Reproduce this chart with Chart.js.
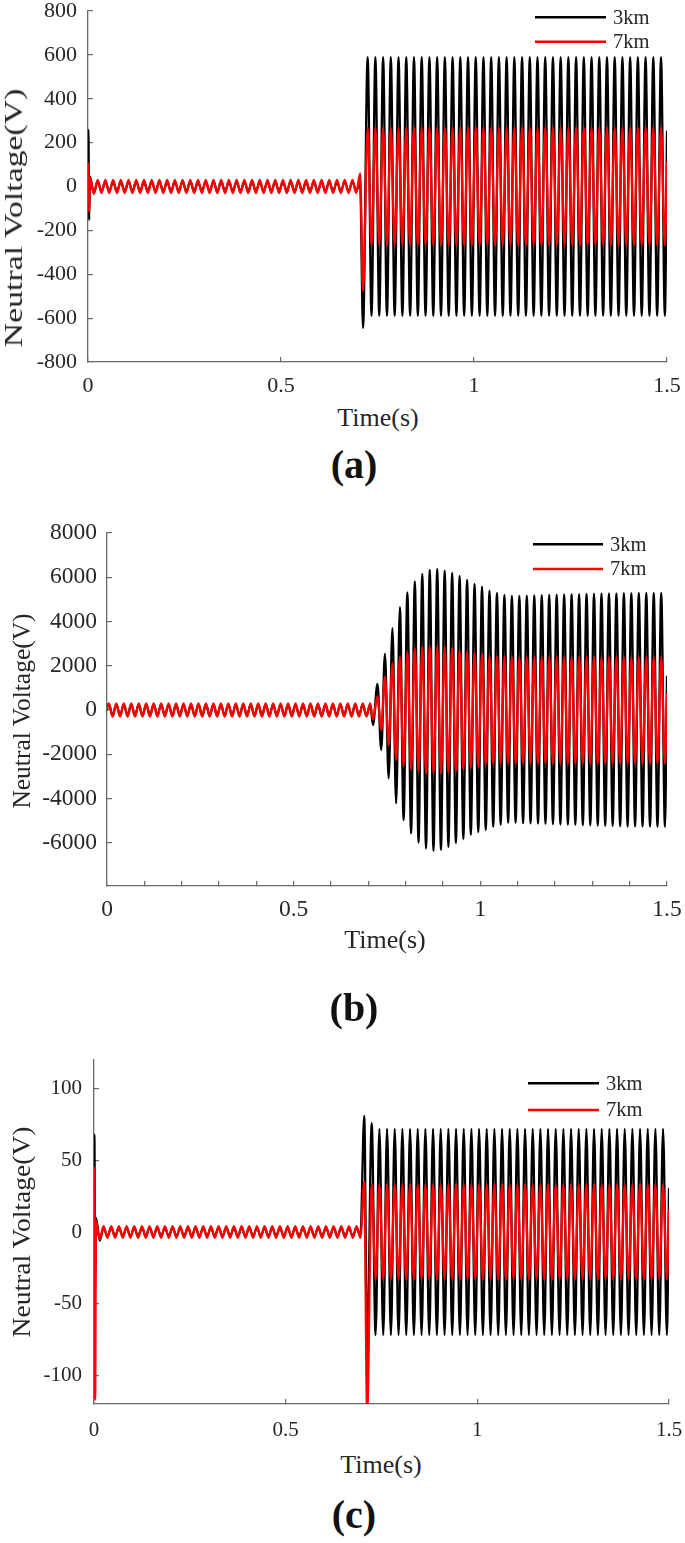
<!DOCTYPE html>
<html><head><meta charset="utf-8">
<script src="https://cdn.jsdelivr.net/npm/chart.js@4/dist/chart.umd.min.js"></script>
<style>
html,body{margin:0;padding:0;background:#fff;}
#page{position:relative;width:685px;height:1543px;overflow:hidden;background:#fff;font-family:"Liberation Serif","Times New Roman",serif;color:#262626;}
canvas{position:absolute;left:0;}
.t{position:absolute;white-space:nowrap;line-height:1;}
</style></head>
<body><div id="page">
<canvas id="cA" width="685" height="400" style="top:0px;width:685px;height:400px"></canvas>
<canvas id="cB" width="685" height="430" style="top:500px;width:685px;height:430px"></canvas>
<canvas id="cC" width="685" height="410" style="top:1040px;width:685px;height:410px"></canvas>

<div class="t" style="left:14px;top:218px;font-size:26px;transform:translate(-50%,-50%) rotate(-90deg) scaleX(1.3)">Neutral Voltage(V)</div>
<div class="t" style="left:378px;top:418px;font-size:26px;transform:translate(-50%,-50%)">Time(s)</div>
<div class="t" style="left:354px;top:465px;font-size:40px;font-weight:bold;color:#111;transform:translate(-50%,-50%)">(a)</div>

<div class="t" style="left:22px;top:711px;font-size:25.5px;transform:translate(-50%,-50%) rotate(-90deg)">Neutral Voltage(V)</div>
<div class="t" style="left:385px;top:940px;font-size:26px;transform:translate(-50%,-50%)">Time(s)</div>
<div class="t" style="left:354px;top:1008px;font-size:40px;font-weight:bold;color:#111;transform:translate(-50%,-50%)">(b)</div>

<div class="t" style="left:22px;top:1232px;font-size:26px;transform:translate(-50%,-50%) rotate(-90deg) scaleX(1.06)">Neutral Voltage(V)</div>
<div class="t" style="left:381px;top:1465px;font-size:26px;transform:translate(-50%,-50%)">Time(s)</div>
<div class="t" style="left:354px;top:1515px;font-size:40px;font-weight:bold;color:#111;transform:translate(-50%,-50%)">(c)</div>
</div>
<script>
// ---------------- DATA ----------------
// sample instants: waveform extrema (50 Hz half-cycles) plus transient points
const time = [
 0, 0.001, 0.003,
 0.005,0.015,0.025,0.035,0.045,0.055,0.065,0.075,0.085,0.095,
 0.105,0.115,0.125,0.135,0.145,0.155,0.165,0.175,0.185,0.195,
 0.205,0.215,0.225,0.235,0.245,0.255,0.265,0.275,0.285,0.295,
 0.305,0.315,0.325,0.335,0.345,0.355,0.365,0.375,0.385,0.395,
 0.405,0.415,0.425,0.435,0.445,0.455,0.465,0.475,0.485,0.495,
 0.505,0.515,0.525,0.535,0.545,0.555,0.565,0.575,0.585,0.595,
 0.605,0.615,0.625,0.635,0.645,0.655,0.665,0.675,0.685,0.695,
 0.705, 0.7125,
 0.7245,0.7345,0.7445,0.7545,0.7645,0.7745,0.7845,0.7945,0.8045,0.8145,
 0.8245,0.8345,0.8445,0.8545,0.8645,0.8745,0.8845,0.8945,0.9045,0.9145,
 0.9245,0.9345,0.9445,0.9545,0.9645,0.9745,0.9845,0.9945,1.0045,1.0145,
 1.0245,1.0345,1.0445,1.0545,1.0645,1.0745,1.0845,1.0945,1.1045,1.1145,
 1.1245,1.1345,1.1445,1.1545,1.1645,1.1745,1.1845,1.1945,1.2045,1.2145,
 1.2245,1.2345,1.2445,1.2545,1.2645,1.2745,1.2845,1.2945,1.3045,1.3145,
 1.3245,1.3345,1.3445,1.3545,1.3645,1.3745,1.3845,1.3945,1.4045,1.4145,
 1.4245,1.4345,1.4445,1.4545,1.4645,1.4745,1.4845,1.4945,
 1.5
];
const seriesNames = ['3km', '7km'];

// (a)
const a3km = [
 0, 258, -152,
 45,-32,24,-22,22,-22,22,-22,22,-22,
 22,-22,22,-22,22,-22,22,-22,22,-22,
 22,-22,22,-22,22,-22,22,-22,22,-22,
 22,-22,22,-22,22,-22,22,-22,22,-22,
 22,-22,22,-22,22,-22,22,-22,22,-22,
 22,-22,22,-22,22,-22,22,-22,22,-22,
 22,-22,22,-22,22,-22,22,-22,22,-22,
 22, -645,
 590,-590,590,-590,590,-590,590,-590,590,-590,
 590,-590,590,-590,590,-590,590,-590,590,-590,
 590,-590,590,-590,590,-590,590,-590,590,-590,
 590,-590,590,-590,590,-590,590,-590,590,-590,
 590,-590,590,-590,590,-590,590,-590,590,-590,
 590,-590,590,-590,590,-590,590,-590,590,-590,
 590,-590,590,-590,590,-590,590,-590,590,-590,
 590,-590,590,-590,590,-590,590,-590,
 250
];
const a7km = [
 0, 107, -115,
 40,-32,30,-30,30,-30,30,-30,30,-30,
 30,-30,30,-30,30,-30,30,-30,30,-30,
 30,-30,30,-30,30,-30,30,-30,30,-30,
 30,-30,30,-30,30,-30,30,-30,30,-30,
 30,-30,30,-30,30,-30,30,-30,30,-30,
 30,-30,30,-30,30,-30,30,-30,30,-30,
 30,-30,30,-30,30,-30,30,-30,30,-30,
 60, -476,
 268,-268,268,-268,268,-268,268,-268,268,-268,
 268,-268,268,-268,268,-268,268,-268,268,-268,
 268,-268,268,-268,268,-268,268,-268,268,-268,
 268,-268,268,-268,268,-268,268,-268,268,-268,
 268,-268,268,-268,268,-268,268,-268,268,-268,
 268,-268,268,-268,268,-268,268,-268,268,-268,
 268,-268,268,-268,268,-268,268,-268,268,-268,
 268,-268,268,-268,268,-268,268,-268,
 110
];

// (b)
const b3km = [
 0, 150, 230,
 250,-250,250,-250,250,-250,250,-250,250,-250,
 250,-250,250,-250,250,-250,250,-250,250,-250,
 250,-250,250,-250,250,-250,250,-250,250,-250,
 250,-250,250,-250,250,-250,250,-250,250,-250,
 250,-250,250,-250,250,-250,250,-250,250,-250,
 250,-250,250,-250,250,-250,250,-250,250,-250,
 250,-250,250,-250,250,-250,250,-250,250,-250,
 250, -680,
 1180,-1810,2530,-3090,3700,-4220,4650,-4980,5310,-5580,
 5810,-6000,6150,-6260,6330,-6370,6380,-6330,6300,-6200,
 6200,-6020,6060,-5840,5880,-5650,5700,-5520,5570,-5430,
 5390,-5290,5290,-5200,5200,-5110,5160,-5110,5160,-5120,
 5170,-5130,5180,-5140,5190,-5150,5200,-5160,5210,-5180,
 5220,-5190,5230,-5200,5240,-5210,5250,-5220,5260,-5230,
 5260,-5240,5270,-5250,5270,-5260,5280,-5270,5280,-5270,
 5290,-5280,5290,-5280,5290,-5290,5290,-5290,
 1500
];
const b7km = [
 0, 160, 260,
 300,-300,300,-300,300,-300,300,-300,300,-300,
 300,-300,300,-300,300,-300,300,-300,300,-300,
 300,-300,300,-300,300,-300,300,-300,300,-300,
 300,-300,300,-300,300,-300,300,-300,300,-300,
 300,-300,300,-300,300,-300,300,-300,300,-300,
 300,-300,300,-300,300,-300,300,-300,300,-300,
 300,-300,300,-300,300,-300,300,-300,300,-300,
 300, -420,
 600,-900,1500,-1600,2100,-2250,2400,-2550,2640,-2700,
 2780,-2790,2850,-2860,2870,-2870,2870,-2870,2850,-2830,
 2800,-2790,2710,-2710,2650,-2630,2600,-2560,2530,-2490,
 2440,-2460,2410,-2440,2400,-2440,2390,-2440,2390,-2440,
 2390,-2440,2390,-2440,2390,-2440,2390,-2440,2390,-2440,
 2390,-2440,2390,-2440,2390,-2440,2390,-2440,2390,-2440,
 2390,-2440,2390,-2440,2390,-2440,2390,-2440,2390,-2440,
 2390,-2440,2390,-2440,2390,-2440,2390,-2440,
 700
];

// (c)
const c3km = [
 0, 68, -40,
 10,-6,3,-3,3,-3,3,-3,3,-3,
 3,-3,3,-3,3,-3,3,-3,3,-3,
 3,-3,3,-3,3,-3,3,-3,3,-3,
 3,-3,3,-3,3,-3,3,-3,3,-3,
 3,-3,3,-3,3,-3,3,-3,3,-3,
 3,-3,3,-3,3,-3,3,-3,3,-3,
 3,-3,3,-3,3,-3,3,-3,3,-3,
 81, -88,
 76,-72,72,-72,72,-72,72,-72,72,-72,
 72,-72,72,-72,72,-72,72,-72,72,-72,
 72,-72,72,-72,72,-72,72,-72,72,-72,
 72,-72,72,-72,72,-72,72,-72,72,-72,
 72,-72,72,-72,72,-72,72,-72,72,-72,
 72,-72,72,-72,72,-72,72,-72,72,-72,
 72,-72,72,-72,72,-72,72,-72,72,-72,
 72,-72,72,-72,72,-72,72,-72,
 30
];
const c7km = [
 0, 45, -117,
 8,-5,4,-4,4,-4,4,-4,4,-4,
 4,-4,4,-4,4,-4,4,-4,4,-4,
 4,-4,4,-4,4,-4,4,-4,4,-4,
 4,-4,4,-4,4,-4,4,-4,4,-4,
 4,-4,4,-4,4,-4,4,-4,4,-4,
 4,-4,4,-4,4,-4,4,-4,4,-4,
 4,-4,4,-4,4,-4,4,-4,4,-4,
 35, -125,
 33,-33,33,-33,33,-33,33,-33,33,-33,
 33,-33,33,-33,33,-33,33,-33,33,-33,
 33,-33,33,-33,33,-33,33,-33,33,-33,
 33,-33,33,-33,33,-33,33,-33,33,-33,
 33,-33,33,-33,33,-33,33,-33,33,-33,
 33,-33,33,-33,33,-33,33,-33,33,-33,
 33,-33,33,-33,33,-33,33,-33,33,-33,
 33,-33,33,-33,33,-33,33,-33,
 15
];

// tick values / labels
const xMajorTicks = [0, 0.5, 1, 1.5];
const xMajorLabels = ['0', '0.5', '1', '1.5'];
const xMinorTicksB = [0.1, 0.2, 0.3, 0.4, 0.6, 0.7, 0.8, 0.9, 1.1, 1.2, 1.3, 1.4];
const yTicksA = [-800, -600, -400, -200, 0, 200, 400, 600, 800];
const yTicksB = [-6000, -4000, -2000, 0, 2000, 4000, 6000, 8000];
const yTicksC = [-100, -50, 0, 50, 100];

// ---------------- RENDER ----------------
const FONT = '"Liberation Serif", "Times New Roman", serif';
const AXIS = '#6a6a6a';
const TXT = '#262626';

const innerLegend = {
  id: 'innerLegend',
  afterDraw(chart, args, o) {
    const {ctx, chartArea} = chart;
    ctx.save();
    ctx.font = o.fontSize + 'px ' + FONT;
    ctx.textBaseline = 'middle';
    ctx.textAlign = 'left';
    chart.data.datasets.forEach((ds, i) => {
      const y = chartArea.top + o.rows[i];
      ctx.strokeStyle = ds.borderColor;
      ctx.lineWidth = 2.4;
      ctx.beginPath();
      ctx.moveTo(chartArea.right + o.lineStart, y);
      ctx.lineTo(chartArea.right + o.lineEnd, y);
      ctx.stroke();
      ctx.fillStyle = TXT;
      ctx.fillText(ds.label, chartArea.right + o.textX, y + 1);
    });
    ctx.restore();
  }
};

function toPoints(vals) { return time.map((t, i) => ({x: t, y: vals[i]})); }

function makeChart(id, cfg) {
  const xTicks = cfg.minorX ? xMajorTicks.concat(cfg.minorX).sort((p, q) => p - q) : xMajorTicks;
  return new Chart(document.getElementById(id), {
    type: 'line',
    data: {
      datasets: [
        {label: seriesNames[0], data: toPoints(cfg.s3), borderColor: '#000000', order: 1},
        {label: seriesNames[1], data: toPoints(cfg.s7), borderColor: '#ff0000', order: 0}
      ].map(d => Object.assign(d, {
        borderWidth: 2.3, pointRadius: 0, fill: false,
        cubicInterpolationMode: 'monotone', borderJoinStyle: 'round', borderCapStyle: 'round'
      }))
    },
    options: {
      responsive: false, animation: false, parsing: false, normalized: true,
      events: [],
      layout: {padding: {left: 0, right: cfg.padRight, top: cfg.padTop, bottom: 0}},
      plugins: {legend: {display: false}, tooltip: {enabled: false}, innerLegend: cfg.legend},
      scales: {
        x: {
          type: 'linear', min: 0, max: 1.5,
          afterBuildTicks: s => { s.ticks = xTicks.map(v => ({value: v})); },
          afterFit: s => { s.height = cfg.xHeight; s.paddingLeft = 0; s.paddingRight = 0; },
          ticks: {
            autoSkip: false, maxRotation: 0, padding: cfg.xPad, color: TXT,
            font: {family: FONT, size: cfg.fs},
            callback: v => { const k = xMajorTicks.indexOf(v); return k >= 0 ? xMajorLabels[k] : ''; }
          },
          grid: {drawOnChartArea: false, drawTicks: true, tickLength: -5, color: AXIS, lineWidth: 1.2},
          border: {display: true, color: AXIS, width: 1.3}
        },
        y: {
          type: 'linear', min: cfg.ymin, max: cfg.ymax,
          afterBuildTicks: s => { s.ticks = cfg.yTicks.map(v => ({value: v})); },
          afterFit: s => { s.width = cfg.yWidth; s.paddingTop = 0; s.paddingBottom = 0; },
          ticks: {
            autoSkip: false, padding: cfg.yPad, color: TXT,
            font: {family: FONT, size: cfg.fs},
            callback: v => String(v)
          },
          grid: {drawOnChartArea: false, drawTicks: true, tickLength: -5, color: AXIS, lineWidth: 1.2},
          border: {display: true, color: AXIS, width: 1.3}
        }
      }
    },
    plugins: [innerLegend]
  });
}

makeChart('cA', {
  s3: a3km, s7: a7km, ymin: -800, ymax: 800, yTicks: yTicksA,
  padTop: 11, padRight: 18, yWidth: 88, xHeight: 38, fs: 22, xPad: 16, yPad: 16,
  legend: {fontSize: 20.5, rows: [6.3, 30.7], lineStart: -132, lineEnd: -61, textX: -54}
});
makeChart('cB', {
  s3: b3km, s7: b7km, ymin: -7960, ymax: 8000, yTicks: yTicksB, minorX: xMinorTicksB,
  padTop: 33, padRight: 18, yWidth: 107, xHeight: 44, fs: 23.5, xPad: 15, yPad: 15,
  legend: {fontSize: 20.5, rows: [11.3, 36], lineStart: -134, lineEnd: -64, textX: -57}
});
makeChart('cC', {
  s3: c3km, s7: c7km, ymin: -120, ymax: 120, yTicks: yTicksC,
  padTop: 20, padRight: 16, yWidth: 94, xHeight: 46, fs: 21, xPad: 19, yPad: 17,
  legend: {fontSize: 20.5, rows: [23.3, 50], lineStart: -141, lineEnd: -70, textX: -63}
});
</script>
</body></html>
